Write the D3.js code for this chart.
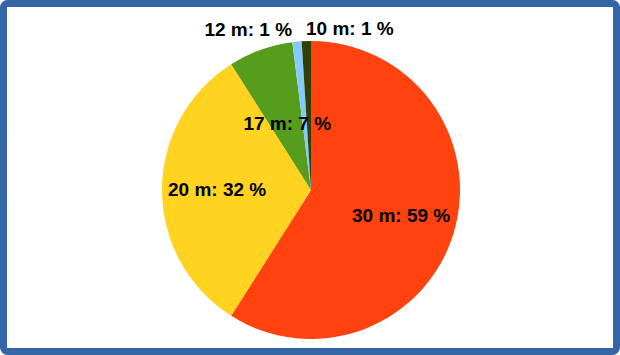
<!DOCTYPE html>
<html>
<head>
<meta charset="utf-8">
<script src="https://cdn.jsdelivr.net/npm/d3@7"></script>
<style>
  body { margin: 0; background: #fff; }
  svg { display: block; }
  text { font-family: "Liberation Sans", Arial, sans-serif; font-weight: bold; }
</style>
</head>
<body>
<svg></svg>
<script>
// Data
const categories = ['30 m', '20 m', '17 m', '12 m', '10 m'];
const shares = [59, 32, 7, 1, 1];
const colors = ['#ff420e', '#ffd320', '#579d1c', '#83caff', '#314004'];

const width = 620;
const height = 355;
const cx = 311, cy = 190;
const radius = 149;

const svg = d3.select('svg')
  .attr('width', width)
  .attr('height', height);

// frame
svg.append('rect')
  .attr('x', 3.5).attr('y', 3.5)
  .attr('width', width - 7).attr('height', height - 7)
  .attr('rx', 4)
  .style('fill', '#fff')
  .style('stroke', '#3465a4')
  .style('stroke-width', 7);

const rows = categories.map((c, i) => ({ name: c, value: shares[i], color: colors[i] }));

const pie = d3.pie()
  .value(d => d.value)
  .sort(null);

const arcs = pie(rows);

const arc = d3.arc()
  .innerRadius(0)
  .outerRadius(radius);

let g = svg.append('g')
  .attr('transform', 'translate(' + cx + ',' + cy + ')');

g.selectAll('path')
  .data(arcs)
  .enter().append('path')
  .attr('d', arc)
  .style('fill', d => d.data.color);

// labels: inside for big slices, outside above the pie for tiny ones
const tiny = d => (d.endAngle - d.startAngle) < 0.1;
const small = d => (d.endAngle - d.startAngle) < 0.6;

const inner = arcs.filter(d => !tiny(d));
const outer = arcs.filter(tiny);

g.selectAll('text.in')
  .data(inner)
  .enter().append('text')
  .attr('class', 'in')
  .attr('transform', function (d) {
    let r = small(d) ? radius * 0.47 : radius * 0.63;
    let a = (d.startAngle + d.endAngle) / 2;
    return 'translate(' + (Math.sin(a) * r) + ',' + (-Math.cos(a) * r) + ')';
  })
  .attr('text-anchor', 'middle')
  .attr('dy', '0.3em')
  .style('font-size', '19px')
  .style('fill', '#000')
  .text(d => d.data.name + ': ' + d.data.value + ' %');

g.selectAll('text.out')
  .data(outer)
  .enter().append('text')
  .attr('class', 'out')
  .attr('transform', function (d) {
    let r = radius + 10;
    let a = (d.startAngle + d.endAngle) / 2;
    return 'translate(' + (Math.sin(a) * r) + ',' + (-Math.cos(a) * r) + ')';
  })
  .attr('text-anchor', (d, i) => i === outer.length - 1 ? 'start' : 'end')
  .attr('dx', (d, i) => i === outer.length - 1 ? 0 : -4)
  .attr('dy', '0.2em')
  .style('font-size', '19px')
  .style('fill', '#000')
  .text(d => d.data.name + ': ' + d.data.value + ' %');
</script>
</body>
</html>
